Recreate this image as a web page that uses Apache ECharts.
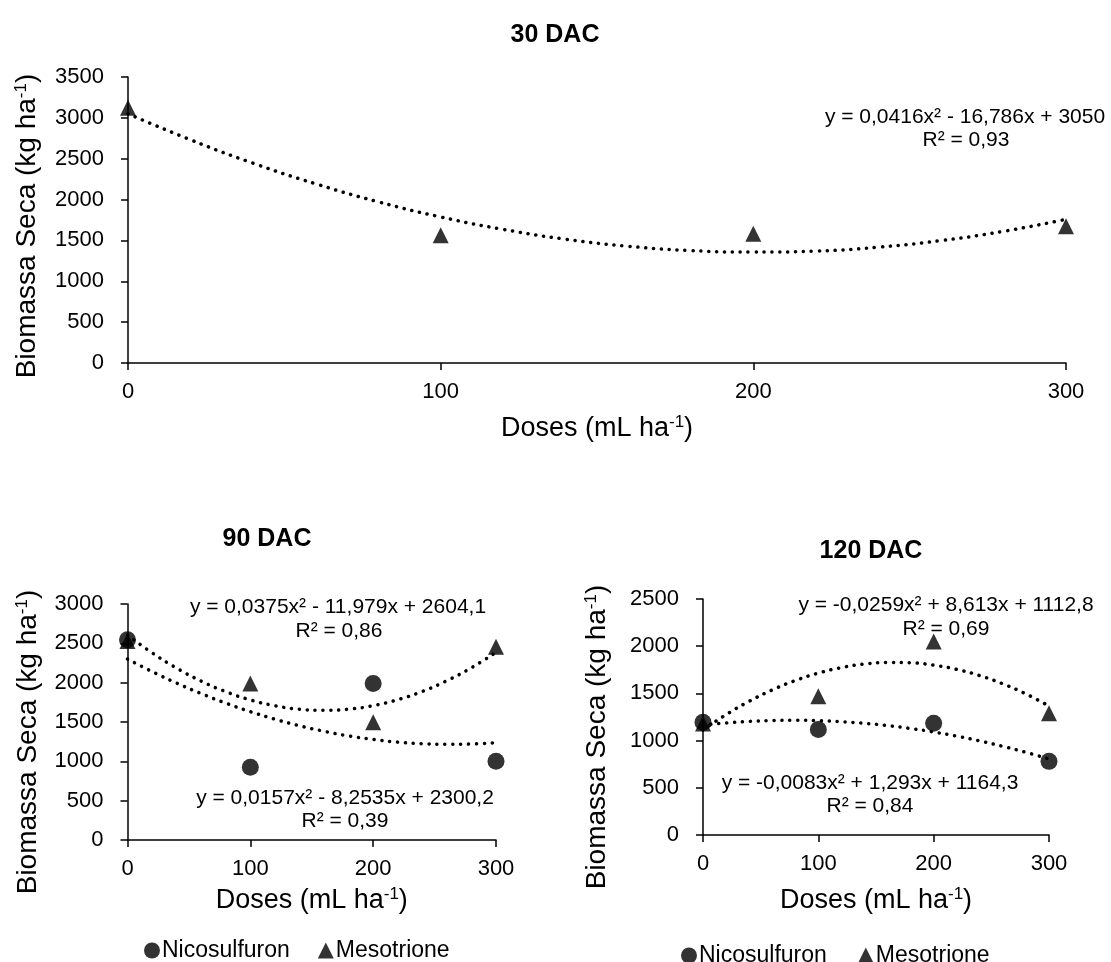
<!DOCTYPE html>
<html>
<head>
<meta charset="utf-8">
<script src="https://cdn.jsdelivr.net/npm/echarts@6/dist/echarts.min.js"></script>
<style>
  html, body { margin: 0; padding: 0; background: #ffffff; }
  #chart { width: 1111px; height: 962px; }
</style>
</head>
<body>
<div id="chart"></div>
<script>
// ---------- DATA ----------
const doses = [0, 100, 200, 300];
const trendX = [0, 20, 40, 60, 80, 100, 120, 140, 160, 180, 200, 220, 240, 260, 280, 300];

// 30 DAC
const meso30 = [3125, 1562, 1583, 1672];
const meso30Trend = [3050, 2731, 2445, 2193, 1973, 1787, 1635, 1515, 1429, 1376, 1357, 1370, 1418, 1498, 1611, 1758];

// 90 DAC
const nico90 = [2545, 925, 1990, 1000];
const meso90 = [2530, 1990, 1498, 2455];
const meso90Trend = [2604, 2380, 2185, 2020, 1886, 1781, 1707, 1662, 1648, 1663, 1708, 1784, 1889, 2025, 2190, 2385];
const nico90Trend = [2300, 2141, 1995, 1862, 1740, 1632, 1536, 1452, 1382, 1323, 1278, 1244, 1224, 1216, 1220, 1237];

// 120 DAC
const nico120 = [1195, 1118, 1185, 780];
const meso120 = [1180, 1470, 2050, 1290];
const meso120Trend = [1113, 1275, 1416, 1536, 1636, 1715, 1773, 1811, 1828, 1824, 1799, 1754, 1688, 1601, 1494, 1366];
const nico120Trend = [1164, 1187, 1203, 1212, 1215, 1211, 1200, 1183, 1159, 1128, 1091, 1047, 997, 939, 876, 805];

const titles = ['30 DAC', '90 DAC', '120 DAC'];
const legendNames = ['Nicosulfuron', 'Mesotrione'];
const xName = 'Doses (mL ha{sup|-1})';
const yName = 'Biomassa Seca (kg ha{sup|-1})';
const eqTexts = [
  'y = 0,0416x² - 16,786x + 3050', 'R² = 0,93',
  'y = 0,0375x² - 11,979x + 2604,1', 'R² = 0,86',
  'y = 0,0157x² - 8,2535x + 2300,2', 'R² = 0,39',
  'y = -0,0259x² + 8,613x + 1112,8', 'R² = 0,69',
  'y = -0,0083x² + 1,293x + 1164,3', 'R² = 0,84'
];

// ---------- HELPERS ----------
const FONT = "'Liberation Sans', Arial, sans-serif";
const pair = (xs, ys) => xs.map((x, i) => [x, ys[i]]);
const plain = v => String(v);

const chart = echarts.init(document.getElementById('chart'), null, { renderer: 'canvas' });

const nameRich = {
  sup: { fontSize: 17, verticalAlign: 'top', padding: [0, 0, 12, 0], fontFamily: FONT, color: '#000' }
};

function xAxisDef(gridIndex, gap) {
  return {
    type: 'value', gridIndex, min: 0, max: 300, interval: 100,
    name: xName, nameLocation: 'middle', nameGap: gap,
    nameTextStyle: { fontSize: 27, fontFamily: FONT, color: '#000', rich: nameRich },
    axisLine: { show: true, lineStyle: { color: '#000', width: 1.5 } },
    axisTick: { show: true, inside: false, length: 7, lineStyle: { color: '#000', width: 1.5 } },
    axisLabel: { fontSize: 22, fontFamily: FONT, color: '#000', margin: 18, formatter: plain },
    splitLine: { show: false }
  };
}
function yAxisDef(gridIndex, max) {
  return {
    type: 'value', gridIndex, min: 0, max, interval: 500,
    axisLine: { show: true, lineStyle: { color: '#000', width: 1.5 } },
    axisTick: { show: true, inside: false, length: 7, lineStyle: { color: '#000', width: 1.5 } },
    axisLabel: { fontSize: 22, fontFamily: FONT, color: '#000', margin: 24, formatter: plain },
    splitLine: { show: false }
  };
}
const dotted = { color: '#000', width: 3.5, type: [0.1, 7.8], cap: 'round' };
function trend(name, xi, ys) {
  return { name, type: 'line', xAxisIndex: xi, yAxisIndex: xi, smooth: true, showSymbol: false,
    symbol: 'none', data: pair(trendX, ys), lineStyle: dotted, silent: true, z: 2 };
}
function scatter(name, xi, ys, symbol) {
  return { name, type: 'scatter', xAxisIndex: xi, yAxisIndex: xi, symbol,
    symbolSize: symbol === 'circle' ? 17 : 16, data: pair(doses, ys),
    itemStyle: { color: '#000' }, z: 3 };
}
function eq(text, x, y) {
  return { type: 'text', x, y, style: { text, font: "21px " + FONT, fill: '#000', align: 'center', verticalAlign: 'middle' } };
}
function yTitle(x, y) {
  return { type: 'text', x, y, rotation: Math.PI / 2,
    style: { text: yName, fontSize: 28, fontFamily: FONT, fill: '#000', align: 'center', verticalAlign: 'middle',
      rich: { sup: { fontSize: 17, fontFamily: FONT, fill: '#000', verticalAlign: 'top', padding: [0, 0, 12, 0] } } } };
}
function legendDef(left, top, gap) {
  return {
    left, top, orient: 'horizontal', itemWidth: 16, itemHeight: 16, itemGap: gap,
    textStyle: { fontSize: 23, fontFamily: FONT, color: '#000', padding: [0, 0, 0, -3] },
    data: [{ name: legendNames[0], icon: 'circle' }, { name: legendNames[1], icon: 'triangle' }],
    selectedMode: false
  };
}
const titleStyle = { fontSize: 25, fontWeight: 'bold', fontFamily: FONT, color: '#000' };

const option = {
  backgroundColor: '#ffffff',
  animation: false,
  title: [
    { text: titles[0], left: 550, top: 18, textAlign: 'center', textStyle: titleStyle },
    { text: titles[1], left: 262, top: 522, textAlign: 'center', textStyle: titleStyle },
    { text: titles[2], left: 866, top: 534, textAlign: 'center', textStyle: titleStyle }
  ],
  grid: [
    { left: 128, top: 77, width: 938, height: 286, containLabel: false },
    { left: 127.5, top: 604, width: 368.5, height: 236, containLabel: false },
    { left: 703, top: 599, width: 346, height: 236, containLabel: false }
  ],
  xAxis: [xAxisDef(0, 51), xAxisDef(1, 46), xAxisDef(2, 51)],
  yAxis: [yAxisDef(0, 3500), yAxisDef(1, 3000), yAxisDef(2, 2500)],
  legend: [legendDef(139, 934, 28), legendDef(676, 939, 31)],
  series: [
    trend('t30m', 0, meso30Trend),
    scatter(legendNames[1], 0, meso30, 'triangle'),
    trend('t90m', 1, meso90Trend),
    trend('t90n', 1, nico90Trend),
    scatter(legendNames[0], 1, nico90, 'circle'),
    scatter(legendNames[1], 1, meso90, 'triangle'),
    trend('t120m', 2, meso120Trend),
    trend('t120n', 2, nico120Trend),
    scatter(legendNames[0], 2, nico120, 'circle'),
    scatter(legendNames[1], 2, meso120, 'triangle')
  ],
  graphic: [
    yTitle(27, 226), yTitle(28, 742), yTitle(597, 737),
    eq(eqTexts[0], 965, 117), eq(eqTexts[1], 966, 140),
    eq(eqTexts[2], 338, 607), eq(eqTexts[3], 339, 631),
    eq(eqTexts[4], 345, 798), eq(eqTexts[5], 345, 821),
    eq(eqTexts[6], 946, 605), eq(eqTexts[7], 946, 629),
    eq(eqTexts[8], 870, 783), eq(eqTexts[9], 870, 806)
  ]
};
chart.setOption(option);
</script>
</body>
</html>
